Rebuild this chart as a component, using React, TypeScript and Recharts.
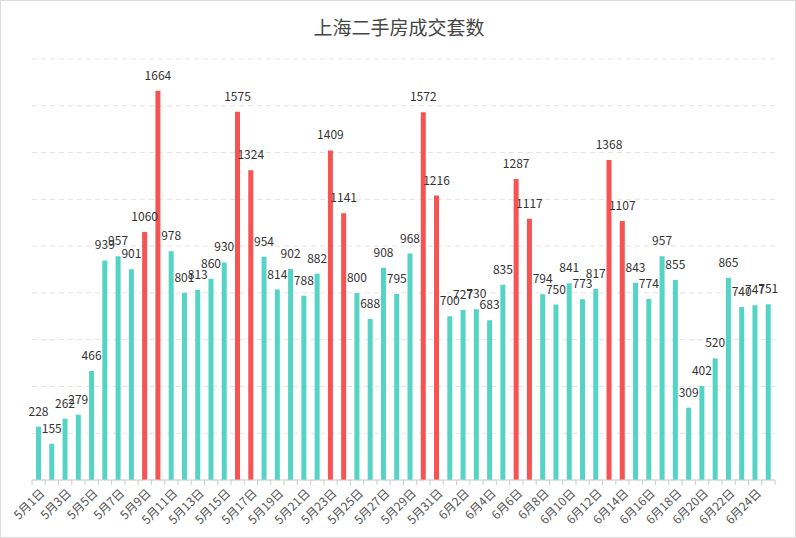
import React from "react";
import { BarChart, Bar, XAxis, YAxis, CartesianGrid, Cell, LabelList } from "recharts";

const categories: string[] = [
  "5月1日","5月2日","5月3日","5月4日","5月5日","5月6日","5月7日","5月8日","5月9日","5月10日",
  "5月11日","5月12日","5月13日","5月14日","5月15日","5月16日","5月17日","5月18日","5月19日","5月20日",
  "5月21日","5月22日","5月23日","5月24日","5月25日","5月26日","5月27日","5月28日","5月29日","5月30日",
  "5月31日","6月1日","6月2日","6月3日","6月4日","6月5日","6月6日","6月7日","6月8日","6月9日",
  "6月10日","6月11日","6月12日","6月13日","6月14日","6月15日","6月16日","6月17日","6月18日","6月19日",
  "6月20日","6月21日","6月22日","6月23日","6月24日","6月25日",
];

const values: number[] = [
  228, 155, 262, 279, 466, 939, 957, 901, 1060, 1664,
  978, 801, 813, 860, 930, 1575, 1324, 954, 814, 902,
  788, 882, 1409, 1141, 800, 688, 908, 795, 968, 1572,
  1216, 700, 727, 730, 683, 835, 1287, 1117, 794, 750,
  841, 773, 817, 1368, 1107, 843, 774, 957, 855, 309,
  402, 520, 865, 740, 747, 751,
];

const highlightDays: string[] = [
  "5月9日","5月10日","5月16日","5月17日","5月23日","5月24日","5月30日","5月31日",
  "6月6日","6月7日","6月13日","6月14日",
];

const yTicks: number[] = [0, 200, 400, 600, 800, 1000, 1200, 1400, 1600, 1800];

const data = categories.map((c, i) => ({ day: c, value: values[i] }));

const TEAL = "#55d4c6";
const RED = "#f65353";
const FONT = "'Noto Sans CJK SC', 'Noto Sans', sans-serif";

const W = 796;
const H = 538;
const ML = 32;
const MR = 21;
const HALF = (W - ML - MR) / categories.length / 2;

const Tick = (props: any) => {
  const { x, y, payload } = props;
  const idx = payload.index;
  const last = idx === categories.length - 1;
  return (
    <g>
      <line x1={x - HALF} y1={y} x2={x - HALF} y2={y + 5} stroke="#cccccc" />
      {last && <line x1={x + HALF} y1={y} x2={x + HALF} y2={y + 5} stroke="#cccccc" />}
      {idx % 2 === 0 && (
        <text
          x={x + 3}
          y={y + 10}
          textAnchor="end"
          dominantBaseline="central"
          transform={`rotate(-45 ${x + 3} ${y + 10})`}
          fontSize={12}
          fill="#555"
          fontFamily={FONT}
        >
          {payload.value}
        </text>
      )}
    </g>
  );
};

export default function App() {
  return (
    <div
      style={{
        position: "absolute",
        left: 0,
        top: 0,
        width: W,
        height: H,
        border: "1px solid #dddddd",
        boxSizing: "border-box",
        background: "#fff",
        fontFamily: FONT,
      }}
    >
      <div
        style={{
          position: "absolute",
          left: 0,
          top: 13,
          width: W,
          textAlign: "center",
          fontSize: 19,
          color: "#464646",
          lineHeight: "26px",
        }}
      >
        上海二手房成交套数
      </div>
      <div style={{ position: "absolute", left: -1, top: -1 }}>
        <BarChart
          width={W}
          height={H}
          data={data}
          margin={{ top: 59, right: MR, left: ML, bottom: 0 }}
        >
          <CartesianGrid vertical={false} stroke="#e3e3e3" strokeDasharray="5 4" />
          <YAxis hide domain={[0, 1800]} ticks={yTicks} type="number" />
          <XAxis
            dataKey="day"
            interval={0}
            height={58}
            tickLine={false}
            tickSize={0}
            tickMargin={0}
            axisLine={{ stroke: "#cccccc" }}
            tick={<Tick />}
          />
          <Bar dataKey="value" barSize={5} isAnimationActive={false}>
            {data.map((d, i) => (
              <Cell key={i} fill={highlightDays.includes(d.day) ? RED : TEAL} />
            ))}
            <LabelList
              dataKey="value"
              position="top"
              offset={11}
              fontSize={12}
              fill="#333"
              fontFamily={FONT}
            />
          </Bar>
        </BarChart>
      </div>
    </div>
  );
}
